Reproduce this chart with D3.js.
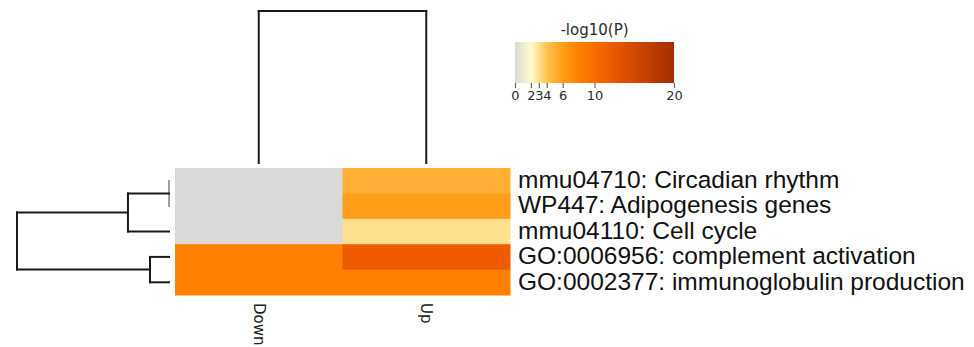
<!DOCTYPE html>
<html>
<head>
<meta charset="utf-8">
<script src="https://cdn.jsdelivr.net/npm/d3@7"></script>
<style>
  html, body { margin: 0; padding: 0; background: #fff; }
  svg { display: block; }
  .row-label { font-family: "Liberation Sans", Arial, sans-serif; font-size: 24.5px; fill: #111; }
  .col-label { font-family: "DejaVu Sans", sans-serif; font-size: 15px; fill: #222; }
  .cb-text { font-family: "DejaVu Sans", sans-serif; fill: #2a2a2a; }
</style>
</head>
<body>
<div id="chart"></div>
<script>
// Chart data
const rowLabels = [
    'mmu04710: Circadian rhythm',
    'WP447: Adipogenesis genes',
    'mmu04110: Cell cycle',
    'GO:0006956: complement activation',
    'GO:0002377: immunoglobulin production'
];
const colLabels = ['Down', 'Up'];

// -log10(P) per row: [Down, Up]
const downValues = [0, 0, 0, 8, 8];
const upValues = [5, 6, 3, 12, 8];

// linkage rows: [childA, childB, height]; ids >= n are earlier merges
const rowLinkage = [[0, 1, 0], [5, 2, 0.27], [3, 4, 0.125], [6, 7, 1]];
const colLinkage = [[0, 1, 1]];

const colorTicks = [0, 2, 3, 4, 6, 10, 20];
const colorStops = [0, 2, 3, 4, 6, 8, 12, 20];
const colorRange = ['#d9d9d7', '#fffbcc', '#ffe08f', '#ffc24f', '#ff9e18', '#ff8000', '#ee5b00', '#a32c00'];

(function () {
    'use strict';

    const W = 974, H = 347;
    const svg = d3.select('#chart').append('svg')
        .attr('width', W)
        .attr('height', H);

    const color = d3.scaleLinear().domain(colorStops).range(colorRange).clamp(true);

    // Heatmap scales
    const x = d3.scaleBand().domain(d3.range(colLabels.length)).range([175, 510]);
    const y = d3.scaleBand().domain(d3.range(rowLabels.length)).range([168, 295]);

    const cells = [];
    rowLabels.forEach((r, i) => {
        cells.push({ row: i, col: 0, v: downValues[i] });
        cells.push({ row: i, col: 1, v: upValues[i] });
    });

    svg.append('g')
        .selectAll('rect')
        .data(cells)
        .enter()
        .append('rect')
        .attr('x', d => x(d.col))
        .attr('y', d => y(d.row))
        .attr('width', x.bandwidth() + 0.5)
        .attr('height', y.bandwidth() + 0.5)
        .attr('fill', d => color(d.v));

    // Row labels
    svg.append('g')
        .selectAll('text')
        .data(rowLabels)
        .enter()
        .append('text')
        .attr('class', 'row-label')
        .attr('x', 518)
        .attr('y', (d, i) => y(i) + y.bandwidth() / 2)
        .attr('dy', '0.3em')
        .text(d => d);

    // Column labels (rotated)
    svg.append('g')
        .selectAll('text')
        .data(colLabels)
        .enter()
        .append('text')
        .attr('class', 'col-label')
        .attr('transform', (d, i) => `translate(${x(i) + x.bandwidth() / 2},303) rotate(90)`)
        .attr('dy', '0.35em')
        .text(d => d);

    /**
     * Build dendrogram segments from a linkage list
     */
    function dendroSegments(linkage, leafPos) {
        const nodes = leafPos.map(p => ({ pos: p, h: 0 }));
        const segs = [];
        linkage.forEach(([a, b, h]) => {
            const A = nodes[a], B = nodes[b];
            const gray = h === 0;
            segs.push({ p1: A.pos, h1: A.h, p2: A.pos, h2: h, gray });
            segs.push({ p1: A.pos, h1: h, p2: B.pos, h2: h, gray });
            segs.push({ p1: B.pos, h1: h, p2: B.pos, h2: B.h, gray });
            nodes.push({ pos: (A.pos + B.pos) / 2, h });
        });
        return segs.filter(s => !(s.p1 === s.p2 && s.h1 === s.h2));
    }

    // Row dendrogram (left)
    const rowH = d3.scaleLinear().domain([0, 1]).range([169, 17]);
    const rowSegs = dendroSegments(rowLinkage, rowLabels.map((d, i) => y(i) + y.bandwidth() / 2));
    svg.append('g')
        .selectAll('line')
        .data(rowSegs)
        .enter()
        .append('line')
        .attr('x1', d => rowH(d.h1))
        .attr('x2', d => rowH(d.h2))
        .attr('y1', d => d.p1)
        .attr('y2', d => d.p2)
        .attr('stroke', d => d.gray ? '#888' : '#1a1a1a')
        .attr('stroke-width', d => d.gray ? 1.6 : 2)
        .attr('stroke-linecap', 'square');

    // Column dendrogram (top)
    const colH = d3.scaleLinear().domain([0, 1]).range([163, 11]);
    const colSegs = dendroSegments(colLinkage, colLabels.map((d, i) => x(i) + x.bandwidth() / 2));
    svg.append('g')
        .selectAll('line')
        .data(colSegs)
        .enter()
        .append('line')
        .attr('x1', d => d.p1)
        .attr('x2', d => d.p2)
        .attr('y1', d => colH(d.h1))
        .attr('y2', d => colH(d.h2))
        .attr('stroke', '#1a1a1a')
        .attr('stroke-width', 2)
        .attr('stroke-linecap', 'square');

    // Colorbar
    const cbX = d3.scaleLinear().domain([0, 20]).range([515, 674]);
    const cbTop = 42, cbBottom = 83;

    const grad = svg.append('defs').append('linearGradient')
        .attr('id', 'cb-grad')
        .attr('x1', '0%').attr('x2', '100%')
        .attr('y1', '0%').attr('y2', '0%');
    d3.range(0, 20.01, 0.5).forEach(v => {
        grad.append('stop')
            .attr('offset', `${(v / 20) * 100}%`)
            .attr('stop-color', color(v));
    });

    svg.append('rect')
        .attr('x', cbX(0))
        .attr('y', cbTop)
        .attr('width', cbX(20) - cbX(0))
        .attr('height', cbBottom - cbTop)
        .attr('fill', 'url(#cb-grad)');

    const cbAxis = d3.axisBottom(cbX)
        .tickValues(colorTicks)
        .tickSize(5)
        .tickPadding(3)
        .tickFormat(d3.format('d'));

    const axisG = svg.append('g')
        .attr('transform', `translate(0,${cbBottom})`)
        .call(cbAxis);
    axisG.select('.domain').remove();
    axisG.attr('font-size', 13).attr('font-family', '"DejaVu Sans", sans-serif');
    axisG.selectAll('line').attr('stroke', '#666').attr('stroke-width', 1.2);
    axisG.selectAll('text')
        .attr('class', 'cb-text')
        .attr('fill', '#2a2a2a');

    svg.append('text')
        .attr('class', 'cb-text')
        .attr('x', (cbX(0) + cbX(20)) / 2)
        .attr('y', 35)
        .attr('text-anchor', 'middle')
        .attr('font-size', 15)
        .text('-log10(P)');
})();
</script>
</body>
</html>
